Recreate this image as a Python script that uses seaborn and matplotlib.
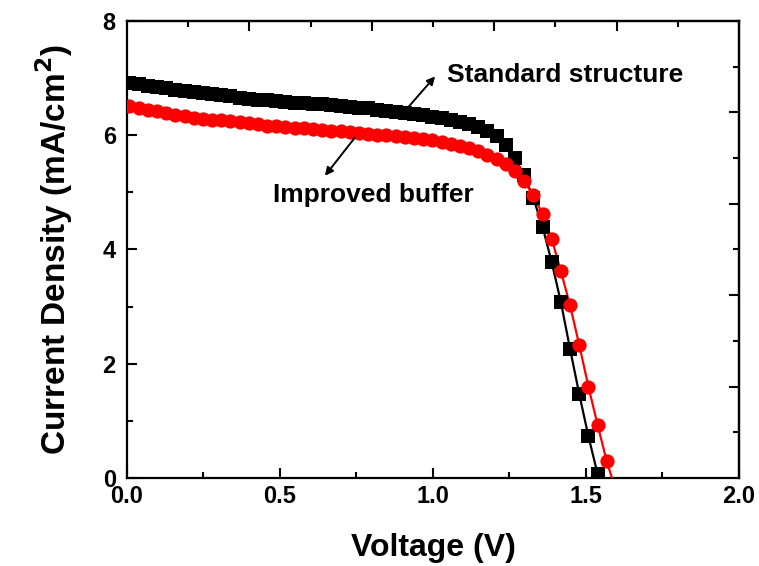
import matplotlib
matplotlib.use("Agg")
import matplotlib.pyplot as plt
import seaborn as sns
import pandas as pd
from matplotlib.ticker import FixedLocator, FormatStrFormatter

# ---------------- data ----------------
voltage_std = [0.008, 0.038, 0.068, 0.098, 0.128, 0.158, 0.188, 0.218, 0.248, 0.278,
               0.308, 0.338, 0.368, 0.398, 0.428, 0.458, 0.488, 0.518, 0.548, 0.578,
               0.608, 0.638, 0.668, 0.698, 0.728, 0.758, 0.788, 0.818, 0.848, 0.878,
               0.908, 0.938, 0.968, 0.998, 1.028, 1.058, 1.088, 1.118, 1.148, 1.178,
               1.208, 1.238, 1.268, 1.298, 1.328, 1.358, 1.388, 1.418, 1.448, 1.478,
               1.508, 1.538]
current_std = [6.92, 6.89, 6.87, 6.85, 6.82, 6.80, 6.78, 6.76, 6.74, 6.72,
               6.70, 6.68, 6.66, 6.64, 6.62, 6.61, 6.60, 6.58, 6.57, 6.56,
               6.55, 6.54, 6.53, 6.51, 6.50, 6.48, 6.47, 6.45, 6.43, 6.41,
               6.39, 6.37, 6.35, 6.32, 6.30, 6.27, 6.24, 6.20, 6.15, 6.08,
               5.98, 5.83, 5.60, 5.30, 4.90, 4.40, 3.78, 3.08, 2.26, 1.47,
               0.73, 0.07]

voltage_imp = [0.008, 0.038, 0.068, 0.098, 0.128, 0.158, 0.188, 0.218, 0.248, 0.278,
               0.308, 0.338, 0.368, 0.398, 0.428, 0.458, 0.488, 0.518, 0.548, 0.578,
               0.608, 0.638, 0.668, 0.698, 0.728, 0.758, 0.788, 0.818, 0.848, 0.878,
               0.908, 0.938, 0.968, 0.998, 1.028, 1.058, 1.088, 1.118, 1.148, 1.178,
               1.208, 1.238, 1.268, 1.298, 1.328, 1.358, 1.388, 1.418, 1.448, 1.478,
               1.508, 1.538, 1.568]
current_imp = [6.51, 6.48, 6.45, 6.42, 6.39, 6.36, 6.33, 6.31, 6.29, 6.27,
               6.26, 6.25, 6.23, 6.21, 6.19, 6.17, 6.16, 6.14, 6.13, 6.12,
               6.11, 6.09, 6.08, 6.07, 6.05, 6.04, 6.03, 6.01, 6.00, 5.98,
               5.97, 5.95, 5.93, 5.91, 5.88, 5.85, 5.81, 5.77, 5.72, 5.66,
               5.59, 5.50, 5.38, 5.20, 4.95, 4.62, 4.19, 3.62, 3.02, 2.33,
               1.60, 0.93, 0.29]

# open-circuit voltage where the fitted lines reach zero current
voc_std = 1.546
voc_imp = 1.585

x_major = [0.0, 0.5, 1.0, 1.5, 2.0]
x_minor = [0.25, 0.75, 1.25, 1.75]
y_major = [0, 2, 4, 6, 8]
y_minor = [1, 3, 5, 7]
top_major = [0.4, 0.8, 1.2, 1.6]
top_minor = [0.2, 0.6, 1.0, 1.4, 1.8]
right_major = [1.6, 3.2, 4.8, 6.4]
right_minor = [0.8, 2.4, 4.0, 5.6, 7.2]

label_std = "Standard structure"
label_imp = "Improved buffer"

# ---------------- frames ----------------
df_std = pd.DataFrame({"V": voltage_std, "J": current_std})
df_imp = pd.DataFrame({"V": voltage_imp, "J": current_imp})
line_std = pd.DataFrame({"V": voltage_std + [voc_std], "J": current_std + [0.0]})
line_imp = pd.DataFrame({"V": voltage_imp + [voc_imp], "J": current_imp + [0.0]})

sns.set_style("ticks")
plt.rcParams["font.family"] = ["Liberation Sans", "DejaVu Sans"]
plt.rcParams["font.weight"] = "bold"
plt.rcParams["mathtext.default"] = "regular"
for key in ["text.color", "axes.labelcolor", "xtick.color", "ytick.color",
            "axes.edgecolor"]:
    plt.rcParams[key] = "black"

fig = plt.figure(figsize=(7.59, 5.66), dpi=100)
ax = fig.add_axes([0.1673, 0.1555, 0.8063, 0.8074])

sns.lineplot(data=line_std, x="V", y="J", ax=ax, color="black", lw=1.6,
             sort=False, estimator=None, zorder=2)
sns.lineplot(data=line_imp, x="V", y="J", ax=ax, color="red", lw=1.6,
             sort=False, estimator=None, zorder=3)
sns.scatterplot(data=df_std, x="V", y="J", ax=ax, marker="s", s=88,
                color="black", edgecolor="black", linewidth=0, zorder=4)
sns.scatterplot(data=df_imp, x="V", y="J", ax=ax, marker="o", s=105,
                color="red", edgecolor="red", linewidth=0, zorder=5)

ax.set_xlim(0, 2.0)
ax.set_ylim(0, 8)
ax.xaxis.set_major_locator(FixedLocator(x_major))
ax.xaxis.set_minor_locator(FixedLocator(x_minor))
ax.yaxis.set_major_locator(FixedLocator(y_major))
ax.yaxis.set_minor_locator(FixedLocator(y_minor))
ax.xaxis.set_major_formatter(FormatStrFormatter("%.1f"))
ax.yaxis.set_major_formatter(FormatStrFormatter("%d"))

ax.tick_params(which="major", direction="in", length=7, width=1.5,
               labelsize=17, colors="black")
ax.tick_params(axis="x", which="major", pad=5)
ax.tick_params(axis="y", which="major", pad=8)
ax.tick_params(which="minor", direction="in", length=4, width=1.5, colors="black")
for lab in ax.get_xticklabels() + ax.get_yticklabels():
    lab.set_fontweight("bold")

for sp in ax.spines.values():
    sp.set_visible(True)
    sp.set_linewidth(1.6)
    sp.set_color("black")

# opposite axes with their own tick spacing
top = ax.secondary_xaxis("top")
top.xaxis.set_major_locator(FixedLocator(top_major))
top.xaxis.set_minor_locator(FixedLocator(top_minor))
top.tick_params(which="major", direction="in", length=7, width=1.5, labeltop=False,
                colors="black")
top.tick_params(which="minor", direction="in", length=4, width=1.5, colors="black")
top.spines["top"].set_linewidth(1.6)
top.spines["top"].set_color("black")

right = ax.secondary_yaxis("right")
right.yaxis.set_major_locator(FixedLocator(right_major))
right.yaxis.set_minor_locator(FixedLocator(right_minor))
right.tick_params(which="major", direction="in", length=7, width=1.5, labelright=False,
                  colors="black")
right.tick_params(which="minor", direction="in", length=4, width=1.5, colors="black")
right.spines["right"].set_linewidth(1.6)
right.spines["right"].set_color("black")

ax.set_xlabel("Voltage (V)", fontsize=23, fontweight="bold", labelpad=18,
              color="black")
ax.set_ylabel(r"Current Density $\mathregular{(}$mA/cm$^{\mathbf{2}}$$\mathregular{)}$",
              fontsize=24, fontweight="bold", labelpad=20, color="black")

ax.text(1.046, 7.05, label_std, fontsize=19, fontweight="bold",
        va="center", ha="left", color="black")
ax.text(0.477, 4.95, label_imp, fontsize=19, fontweight="bold",
        va="center", ha="left", color="black")

ax.annotate("", xy=(1.007, 7.03), xytext=(0.914, 6.46),
            arrowprops=dict(arrowstyle="-|>", color="black", lw=1.4,
                            mutation_scale=12, shrinkA=0, shrinkB=0), zorder=6)
ax.annotate("", xy=(0.647, 5.29), xytext=(0.745, 5.96),
            arrowprops=dict(arrowstyle="-|>", color="black", lw=1.4,
                            mutation_scale=12, shrinkA=0, shrinkB=0), zorder=6)

fig.savefig("out.png", dpi=100)
